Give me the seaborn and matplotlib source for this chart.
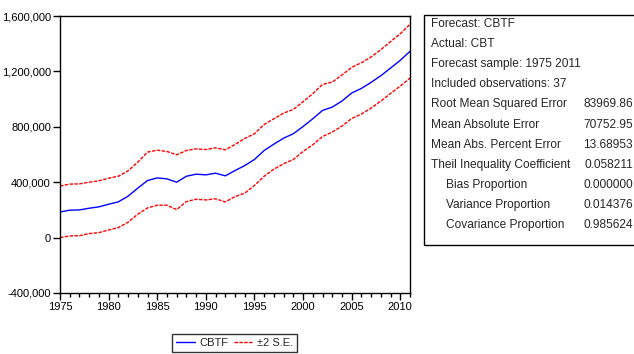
import numpy as np
import pandas as pd
import matplotlib
matplotlib.use("Agg")
import matplotlib.pyplot as plt
import seaborn as sns
from matplotlib.lines import Line2D
from matplotlib.ticker import FuncFormatter, MultipleLocator

years = list(range(1975, 2012))
cbtf = [185, 198, 200, 212, 222, 241, 258, 299, 357, 412, 431, 424, 400, 443, 458,
        453, 465, 446, 484, 520, 564, 629, 675, 718, 750, 802, 858, 918, 942, 986,
        1044, 1077, 1121, 1169, 1224, 1280, 1345]
upper = [373, 386, 388, 400, 410, 429, 443, 482, 545, 617, 631, 622, 598, 629, 641,
         636, 648, 634, 672, 716, 750, 817, 858, 899, 925, 981, 1039, 1106, 1123, 1174,
         1229, 1263, 1304, 1357, 1415, 1472, 1540]
lower = [0, 12, 14, 29, 36, 55, 72, 111, 169, 214, 234, 234, 202, 260, 277,
         272, 280, 258, 296, 321, 376, 443, 494, 533, 564, 622, 670, 730, 762, 805,
         860, 892, 935, 986, 1041, 1094, 1152]
stat_labels = ["Root Mean Squared Error", "Mean Absolute Error", "Mean Abs. Percent Error",
               "Theil Inequality Coefficient", "Bias Proportion", "Variance Proportion",
               "Covariance Proportion"]
stat_indent = [0, 0, 0, 0, 1, 1, 1]
stat_values = ["83969.86", "70752.95", "13.68953", "0.058211", "0.000000", "0.014376", "0.985624"]
header_lines = ["Forecast: CBTF", "Actual: CBT", "Forecast sample: 1975 2011",
                "Included observations: 37"]

sns.set_theme(style="white")
plt.rcParams['font.family'] = ['Liberation Sans Narrow', 'Liberation Sans', 'DejaVu Sans']

df = pd.DataFrame({"year": years,
                   "cbtf": np.array(cbtf) * 1000,
                   "upper": np.array(upper) * 1000,
                   "lower": np.array(lower) * 1000})

fig = plt.figure(figsize=(6.34, 3.54), dpi=100)
W, H = 634, 354
ax = fig.add_axes([60 / W, 1 - 293 / H, 350 / W, 277 / H])

dash = (0, (2.5, 1))
sns.lineplot(data=df, x="year", y="upper", ax=ax, color="#ff0000", lw=1.0, linestyle=dash)
sns.lineplot(data=df, x="year", y="lower", ax=ax, color="#ff0000", lw=1.0, linestyle=dash)
sns.lineplot(data=df, x="year", y="cbtf", ax=ax, color="#0000ff", lw=1.0)

ax.set_xlim(1975, 2011)
ax.set_ylim(-400000, 1600000)
ax.set_xlabel("")
ax.set_ylabel("")
ax.xaxis.set_major_locator(MultipleLocator(5))
ax.xaxis.set_minor_locator(MultipleLocator(1))
ax.yaxis.set_major_locator(MultipleLocator(400000))
ax.yaxis.set_major_formatter(FuncFormatter(lambda v, p: f"{int(v):,}"))
ax.tick_params(axis="both", which="major", direction="out", length=5, width=1,
               color="black", labelsize=8, pad=1.5, labelcolor="black")
ax.tick_params(axis="x", which="minor", direction="out", length=3, width=1, color="black",
               bottom=True)
ax.tick_params(axis="x", which="major", bottom=True)
ax.tick_params(axis="y", which="major", left=True)
for s in ax.spines.values():
    s.set_color("black")
    s.set_linewidth(1.0)

# legend
handles = [Line2D([], [], color="#0000ff", lw=1.0),
           Line2D([], [], color="#ff0000", lw=1.0, linestyle=dash)]
leg = fig.legend(handles, ["CBTF", "\u00b12 S.E."], loc="center",
                 bbox_to_anchor=(234.5 / W, 1 - 343 / H), ncol=2, fontsize=8,
                 frameon=True, fancybox=False, edgecolor="black", handlelength=1.7,
                 handletextpad=0.4, columnspacing=0.5, borderpad=0.35, borderaxespad=0)
leg.get_frame().set_linewidth(1.0)

# stats box
box = plt.Rectangle((424 / W, 1 - 245 / H), 215 / W, 230 / H, transform=fig.transFigure,
                    fill=False, edgecolor="black", lw=1.0)
fig.add_artist(box)
y0 = 23.8
dy = 20.15
fs = 8.6
for i, t in enumerate(header_lines):
    fig.text(431 / W, 1 - (y0 + i * dy) / H, t, fontsize=fs, va="center", ha="left")
for j, (lab, val) in enumerate(zip(stat_labels, stat_values)):
    yy = 1 - (y0 + (j + 4) * dy) / H
    xx = 446 if stat_indent[j] else 431
    fig.text(xx / W, yy, lab, fontsize=fs, va="center", ha="left")
    fig.text(633 / W, yy, val, fontsize=fs, va="center", ha="right")

fig.savefig("out.png", dpi=100)
